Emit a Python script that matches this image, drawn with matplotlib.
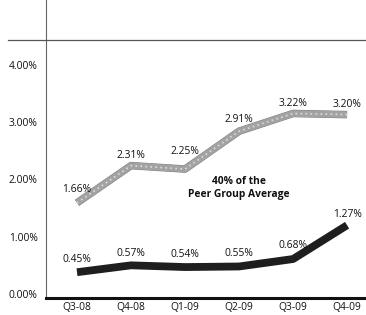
import matplotlib
matplotlib.use("Agg")
import matplotlib.pyplot as plt
from matplotlib.lines import Line2D
import matplotlib.patheffects as pe

quarters = ["Q3-08", "Q4-08", "Q1-09", "Q2-09", "Q3-09", "Q4-09"]
peer_avg = [1.66, 2.31, 2.25, 2.91, 3.22, 3.20]
company = [0.45, 0.57, 0.54, 0.55, 0.68, 1.27]
yticks = [0, 1, 2, 3, 4]

plt.rcParams['font.family'] = ['Open Sans', 'DejaVu Sans']

fig = plt.figure(figsize=(3.66, 3.15), dpi=100)
ax = fig.add_axes([46/366, 17/315, 1 - 46/366, 1 - 17/315])

x = list(range(len(quarters)))
ax.plot(x, peer_avg, color='#a3a3a3', lw=4.8, solid_joinstyle='round',
        solid_capstyle='butt',
        path_effects=[pe.Stroke(linewidth=5.4, foreground='#7a7a7a'), pe.Normal()])
ax.plot(x, peer_avg, color='#dcdcdc', lw=1.2, ls=(0, (1, 2)))
ax.plot(x, company, color='#1e1e1e', lw=5.6, solid_joinstyle='round',
        solid_capstyle='butt')

ax.set_xlim(-0.574, 5.35)
ax.set_ylim(0, 5.2)

peer_off = [13, 10, 18, 12, 10, 10]
comp_off = [13, 12, 13, 13, 14, 11]
for xi, v, o in zip(x, peer_avg, peer_off):
    ax.annotate(f"{v:.2f}%", (xi, v), xytext=(0, o * 72 / 100), textcoords='offset points',
                ha='center', va='center', fontsize=7.4, color='#111111')
for xi, v, o in zip(x, company, comp_off):
    ax.annotate(f"{v:.2f}%", (xi, v), xytext=(0, o * 72 / 100), textcoords='offset points',
                ha='center', va='center', fontsize=7.4, color='#111111')

ax.text(3.0, 1.92, "40% of the\nPeer Group Average", ha='center', va='center',
        fontsize=7.4, fontweight='bold', color='#111111', linespacing=1.35)

ax.set_xticks(x)
ax.set_xticklabels(quarters, fontsize=7.4, color='#111111')
ax.set_yticks(yticks)
ax.set_yticklabels([f"{t:.2f}%" for t in yticks], fontsize=7.4, color='#111111')
for lab in ax.get_yticklabels():
    lab.set_verticalalignment('baseline')
ax.tick_params(axis='both', length=0)
ax.tick_params(axis='x', pad=3)
ax.tick_params(axis='y', pad=6)

for s in ['top', 'right']:
    ax.spines[s].set_visible(False)
ax.spines['left'].set_color('#666666')
ax.spines['left'].set_linewidth(0.8)
ax.spines['bottom'].set_color('#111111')
ax.spines['bottom'].set_linewidth(2.2)

fig.add_artist(Line2D([8/366, 1.0], [1 - 40/315, 1 - 40/315], transform=fig.transFigure,
                      color='#555555', lw=0.9))

fig.savefig("out.png", dpi=100)
